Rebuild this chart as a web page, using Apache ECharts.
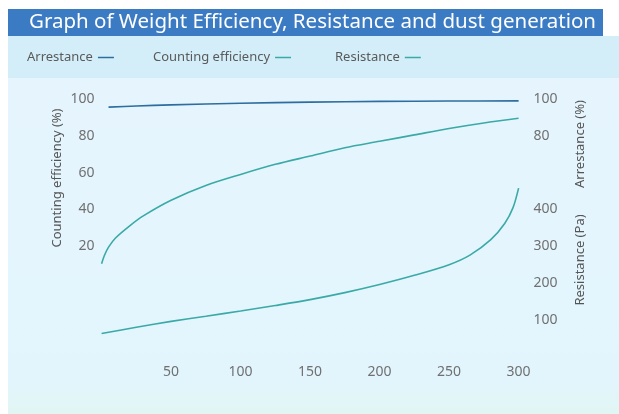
<!DOCTYPE html>
<html>
<head>
<meta charset="utf-8">
<script src="https://cdn.jsdelivr.net/npm/echarts@6/dist/echarts.min.js"></script>
<style>
  html, body { margin: 0; padding: 0; background: #fff; }
  #chart { width: 619px; height: 414px; }
</style>
</head>
<body>
<div id="chart"></div>
<script>
// values (x axis 0..300)
const xTicks = [50, 100, 150, 200, 250, 300];

const arrestanceX = [5, 25, 50, 100, 150, 200, 250, 300];
const arrestance  = [95.6, 96.2, 96.8, 97.7, 98.3, 98.7, 98.9, 99.0];

const countingX = [0, 2, 5, 10, 20, 30, 50, 75, 100, 125, 150, 175, 200, 225, 250, 275, 300];
const counting  = [10.5, 15, 19.5, 24.5, 31, 36.5, 45, 53, 59, 64.5, 69, 73.5, 77, 80.5, 84, 87, 89.5];

const resistanceX = [0, 25, 50, 75, 100, 125, 150, 175, 200, 225, 250, 265, 280, 290, 296, 300];
const resistance  = [63, 80, 96, 110, 124, 139, 155, 174, 196, 221, 250, 276, 318, 362, 405, 458];

const leftTicks = [20, 40, 60, 80, 100];
const arrestTicks = [80, 100];
const resistTicks = [100, 200, 300, 400];

const pairs = (xs, ys) => xs.map((x, i) => [x, ys[i]]);

const blue = '#2d6d9f';
const teal = '#3aaaa7';
const labelColor = '#707070';
const font = 'Noto Sans';

let chart = echarts.init(document.getElementById('chart'));

let legendBase = {
  top: 51,
  align: 'right',
  icon: 'rect',
  itemWidth: 16,
  itemHeight: 1.5,
  itemGap: 0,
  padding: 0,
  textStyle: { color: '#5a5a5a', fontSize: 13, fontFamily: font }
};

chart.setOption({
  animation: false,
  textStyle: { fontFamily: font },
  title: {
    text: 'Graph of Weight Efficiency, Resistance and dust generation',
    left: 29,
    top: 9,
    padding: 0,
    textStyle: { color: '#ffffff', fontSize: 20.5, fontWeight: 'normal', fontFamily: font, lineHeight: 27 }
  },
  graphic: [
    { type: 'rect', z: -10, shape: { x: 8, y: 9, width: 595, height: 27 }, style: { fill: '#3b7bc3' } },
    { type: 'rect', z: -10, shape: { x: 8, y: 36, width: 611, height: 42 }, style: { fill: '#d3eef9' } },
    {
      type: 'rect', z: -10, shape: { x: 8, y: 78, width: 611, height: 336 },
      style: {
        fill: new echarts.graphic.LinearGradient(0, 0, 0, 1, [
          { offset: 0, color: '#e6f5fd' },
          { offset: 0.9, color: '#e2f5fd' },
          { offset: 1, color: '#e1f6f3' }
        ])
      }
    },
    {
      type: 'text', x: 57, y: 178, rotation: Math.PI / 2,
      style: { text: 'Counting efficiency (%)', fill: '#555', fontSize: 13, fontFamily: font, align: 'center', verticalAlign: 'middle' }
    },
    {
      type: 'text', x: 580, y: 144, rotation: Math.PI / 2,
      style: { text: 'Arrestance (%)', fill: '#555', fontSize: 13, fontFamily: font, align: 'center', verticalAlign: 'middle' }
    },
    {
      type: 'text', x: 580, y: 260, rotation: Math.PI / 2,
      style: { text: 'Resistance (Pa)', fill: '#555', fontSize: 13, fontFamily: font, align: 'center', verticalAlign: 'middle' }
    }
  ],
  legend: [
    Object.assign({}, legendBase, { left: 27, data: ['Arrestance'] }),
    Object.assign({}, legendBase, { left: 153, data: ['Counting efficiency'] }),
    Object.assign({}, legendBase, { left: 335, data: ['Resistance'] })
  ],
  grid: { left: 101.6, right: 100.4, top: 99, bottom: 57.3 },
  xAxis: {
    type: 'value',
    min: 0,
    max: 300,
    interval: 50,
    axisLine: { show: false },
    axisTick: { show: false },
    splitLine: { show: false },
    axisLabel: {
      color: labelColor, fontSize: 14, margin: 8,
      formatter: v => xTicks.includes(v) ? String(v) : ''
    }
  },
  yAxis: [
    {
      type: 'value', position: 'left', min: -40, max: 100, interval: 20,
      axisLine: { show: false }, axisTick: { show: false }, splitLine: { show: false },
      axisLabel: { color: labelColor, fontSize: 14, margin: 7, formatter: v => leftTicks.includes(v) ? String(v) : '' }
    },
    {
      type: 'value', position: 'right', min: -40, max: 100, interval: 20,
      axisLine: { show: false }, axisTick: { show: false }, splitLine: { show: false },
      axisLabel: { color: labelColor, fontSize: 14, margin: 15, formatter: v => arrestTicks.includes(v) ? String(v) : '' }
    },
    {
      type: 'value', position: 'right', min: 0, max: 700, interval: 100,
      axisLine: { show: false }, axisTick: { show: false }, splitLine: { show: false },
      axisLabel: { color: labelColor, fontSize: 14, margin: 15, formatter: v => resistTicks.includes(v) ? String(v) : '' }
    }
  ],
  series: [
    {
      name: 'Arrestance', type: 'line', yAxisIndex: 1, smooth: 0.3, showSymbol: false,
      itemStyle: { color: blue }, lineStyle: { color: blue, width: 1.6 },
      data: pairs(arrestanceX, arrestance)
    },
    {
      name: 'Counting efficiency', type: 'line', yAxisIndex: 0, smooth: 0.3, showSymbol: false,
      itemStyle: { color: teal }, lineStyle: { color: teal, width: 1.6 },
      data: pairs(countingX, counting)
    },
    {
      name: 'Resistance', type: 'line', yAxisIndex: 2, smooth: 0.3, showSymbol: false,
      itemStyle: { color: teal }, lineStyle: { color: teal, width: 1.6 },
      data: pairs(resistanceX, resistance)
    }
  ]
});
</script>
</body>
</html>
